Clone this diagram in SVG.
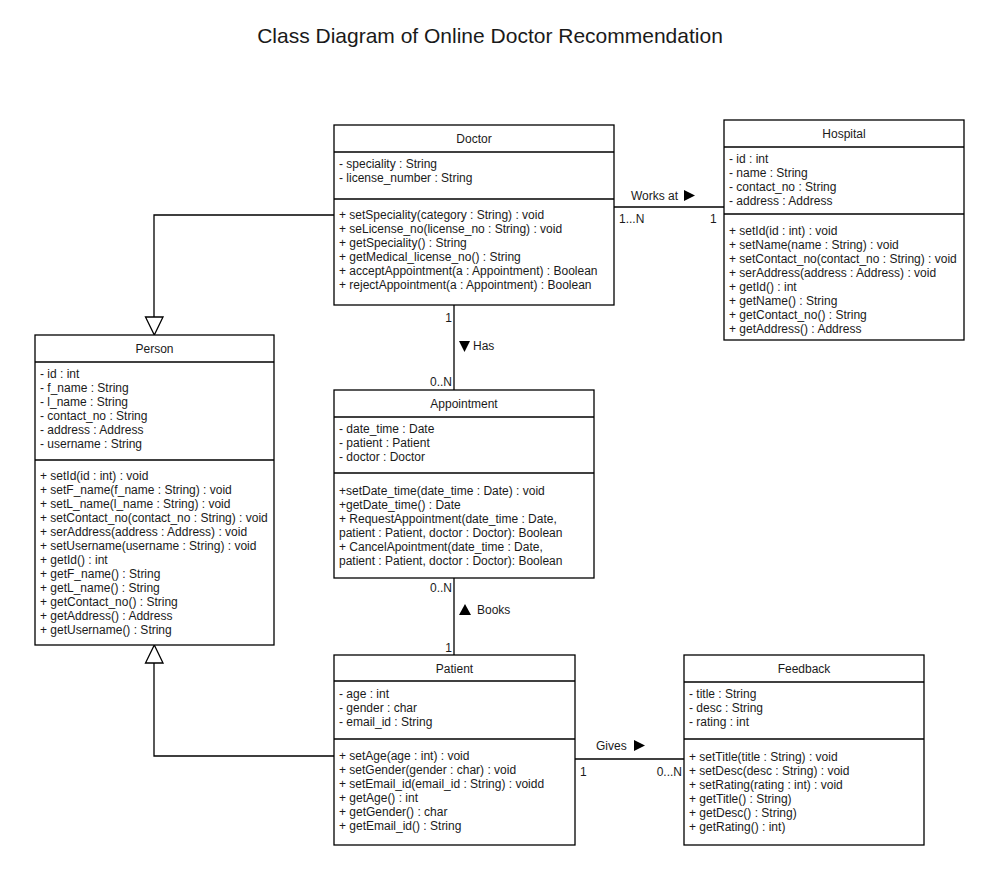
<svg xmlns="http://www.w3.org/2000/svg" width="1000" height="879" viewBox="0 0 1000 879">
<style>
text{font-family:"Liberation Sans",Arial,sans-serif;font-size:12px;fill:#1a1a1a}
.t{text-anchor:middle;font-size:12px}
.title{font-size:21px;text-anchor:middle}
.box{fill:#fff;stroke:#000;stroke-width:1.3}
.ln{stroke:#000;stroke-width:1.3;fill:none}
.e{text-anchor:end}
.tri{fill:#000;stroke:none}
.gen{fill:#fff;stroke:#000;stroke-width:1.3}
</style>
<rect width="1000" height="879" fill="#fff"/>
<text class="title" x="490" y="43">Class Diagram of Online Doctor Recommendation</text>

<g id="connectors">
  <line class="ln" x1="614" y1="207" x2="724" y2="207"/>
  <text x="631" y="200">Works at</text>
  <polygon class="tri" points="684,190 695,195.5 684,201"/>
  <text x="619" y="223">1...N</text>
  <text x="710" y="223">1</text>

  <line class="ln" x1="454" y1="305" x2="454" y2="390"/>
  <text class="e" x="452" y="322">1</text>
  <polygon class="tri" points="459,341 470,341 464.5,352"/>
  <text x="473" y="350">Has</text>
  <text class="e" x="452" y="386">0..N</text>

  <line class="ln" x1="454" y1="578" x2="454" y2="655"/>
  <text class="e" x="452" y="592">0..N</text>
  <polygon class="tri" points="459,615 471,615 465,604"/>
  <text x="477" y="614">Books</text>
  <text class="e" x="452" y="652">1</text>

  <line class="ln" x1="575" y1="759" x2="684" y2="759"/>
  <text x="596" y="750">Gives</text>
  <polygon class="tri" points="634,740 645,745.5 634,751"/>
  <text x="580" y="776">1</text>
  <text class="e" x="682" y="776">0...N</text>

  <polyline class="ln" points="334,215 154,215 154,317"/>
  <polygon class="gen" points="145.5,317 163,317 154.3,335"/>
  <polyline class="ln" points="334,756 154,756 154,663"/>
  <polygon class="gen" points="145.5,663 163,663 154.3,645"/>
</g>

<g id="doctor">
  <rect class="box" x="334" y="125" width="280" height="180"/>
  <line class="ln" x1="334" y1="152" x2="614" y2="152"/>
  <line class="ln" x1="334" y1="199" x2="614" y2="199"/>
  <text class="t" x="474" y="142.5">Doctor</text>
  <text x="339" y="168">- speciality : String</text>
  <text x="339" y="182">- license_number : String</text>
  <text x="339" y="219">+ setSpeciality(category : String) : void</text>
  <text x="339" y="233">+ seLicense_no(license_no : String) : void</text>
  <text x="339" y="247">+ getSpeciality() : String</text>
  <text x="339" y="261">+ getMedical_license_no() : String</text>
  <text x="339" y="275">+ acceptAppointment(a : Appointment) : Boolean</text>
  <text x="339" y="289">+ rejectAppointment(a : Appointment) : Boolean</text>
</g>

<g id="hospital">
  <rect class="box" x="724" y="120" width="240" height="220"/>
  <line class="ln" x1="724" y1="147" x2="964" y2="147"/>
  <line class="ln" x1="724" y1="214" x2="964" y2="214"/>
  <text class="t" x="844" y="137.5">Hospital</text>
  <text x="729" y="163">- id : int</text>
  <text x="729" y="177">- name : String</text>
  <text x="729" y="191">- contact_no : String</text>
  <text x="729" y="205">- address : Address</text>
  <text x="729" y="235">+ setId(id : int) : void</text>
  <text x="729" y="249">+ setName(name : String) : void</text>
  <text x="729" y="263">+ setContact_no(contact_no : String) : void</text>
  <text x="729" y="277">+ serAddress(address : Address) : void</text>
  <text x="729" y="291">+ getId() : int</text>
  <text x="729" y="305">+ getName() : String</text>
  <text x="729" y="319">+ getContact_no() : String</text>
  <text x="729" y="333">+ getAddress() : Address</text>
</g>

<g id="person">
  <rect class="box" x="35" y="335" width="239" height="310"/>
  <line class="ln" x1="35" y1="362" x2="274" y2="362"/>
  <line class="ln" x1="35" y1="460" x2="274" y2="460"/>
  <text class="t" x="154.5" y="352.5">Person</text>
  <text x="40" y="378">- id : int</text>
  <text x="40" y="392">- f_name : String</text>
  <text x="40" y="406">- l_name : String</text>
  <text x="40" y="420">- contact_no : String</text>
  <text x="40" y="434">- address : Address</text>
  <text x="40" y="448">- username : String</text>
  <text x="40" y="480">+ setId(id : int) : void</text>
  <text x="40" y="494">+ setF_name(f_name : String) : void</text>
  <text x="40" y="508">+ setL_name(l_name : String) : void</text>
  <text x="40" y="522">+ setContact_no(contact_no : String) : void</text>
  <text x="40" y="536">+ serAddress(address : Address) : void</text>
  <text x="40" y="550">+ setUsername(username : String) : void</text>
  <text x="40" y="564">+ getId() : int</text>
  <text x="40" y="578">+ getF_name() : String</text>
  <text x="40" y="592">+ getL_name() : String</text>
  <text x="40" y="606">+ getContact_no() : String</text>
  <text x="40" y="620">+ getAddress() : Address</text>
  <text x="40" y="634">+ getUsername() : String</text>
</g>

<g id="appointment">
  <rect class="box" x="334" y="390" width="260" height="188"/>
  <line class="ln" x1="334" y1="417" x2="594" y2="417"/>
  <line class="ln" x1="334" y1="473" x2="594" y2="473"/>
  <text class="t" x="464" y="407.5">Appointment</text>
  <text x="339" y="433">- date_time : Date</text>
  <text x="339" y="447">- patient : Patient</text>
  <text x="339" y="461">- doctor : Doctor</text>
  <text x="339" y="495">+setDate_time(date_time : Date) : void</text>
  <text x="339" y="509">+getDate_time() : Date</text>
  <text x="339" y="523">+ RequestAppointment(date_time : Date,</text>
  <text x="339" y="537">patient : Patient, doctor : Doctor): Boolean</text>
  <text x="339" y="551">+ CancelApointment(date_time : Date,</text>
  <text x="339" y="565">patient : Patient, doctor : Doctor): Boolean</text>
</g>

<g id="patient">
  <rect class="box" x="334" y="655" width="241" height="190"/>
  <line class="ln" x1="334" y1="681" x2="575" y2="681"/>
  <line class="ln" x1="334" y1="739" x2="575" y2="739"/>
  <text class="t" x="454.5" y="672.5">Patient</text>
  <text x="339" y="698">- age : int</text>
  <text x="339" y="712">- gender : char</text>
  <text x="339" y="726">- email_id : String</text>
  <text x="339" y="760">+ setAge(age : int) : void</text>
  <text x="339" y="774">+ setGender(gender : char) : void</text>
  <text x="339" y="788">+ setEmail_id(email_id : String) : voidd</text>
  <text x="339" y="802">+ getAge() : int</text>
  <text x="339" y="816">+ getGender() : char</text>
  <text x="339" y="830">+ getEmail_id() : String</text>
</g>

<g id="feedback">
  <rect class="box" x="684" y="655" width="240" height="190"/>
  <line class="ln" x1="684" y1="682" x2="924" y2="682"/>
  <line class="ln" x1="684" y1="739" x2="924" y2="739"/>
  <text class="t" x="804" y="672.5">Feedback</text>
  <text x="689" y="698">- title : String</text>
  <text x="689" y="712">- desc : String</text>
  <text x="689" y="726">- rating : int</text>
  <text x="689" y="761">+ setTitle(title : String) : void</text>
  <text x="689" y="775">+ setDesc(desc : String) : void</text>
  <text x="689" y="789">+ setRating(rating : int) : void</text>
  <text x="689" y="803">+ getTitle() : String)</text>
  <text x="689" y="817">+ getDesc() : String)</text>
  <text x="689" y="831">+ getRating() : int)</text>
</g>
</svg>
